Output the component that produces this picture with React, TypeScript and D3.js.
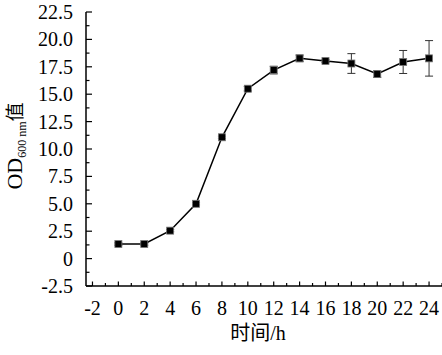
import React from 'react'
import * as d3 from 'd3'

const hours = [0, 2, 4, 6, 8, 10, 12, 14, 16, 18, 20, 22, 24]
const od600 = [1.33, 1.33, 2.55, 5.0, 11.07, 15.5, 17.2, 18.27, 18.03, 17.8, 16.84, 17.94, 18.27]
const errors = [0.1, 0.1, 0.1, 0.1, 0.1, 0.2, 0.35, 0.3, 0.15, 0.9, 0.3, 1.05, 1.62]

const yMajor = [-2.5, 0, 2.5, 5, 7.5, 10, 12.5, 15, 17.5, 20, 22.5]
const xMajor = [-2, 0, 2, 4, 6, 8, 10, 12, 14, 16, 18, 20, 22, 24]

const W = 442
const H = 355
const serif = '"Liberation Serif", "Times New Roman", serif'
const cjk = '"Noto Sans CJK SC", sans-serif'

export default function App() {
  const x = d3.scaleLinear().domain([-2.5, 25]).range([86, 442])
  const y = d3.scaleLinear().domain([-2.5, 22.5]).range([286, 12])

  const yMinor = yMajor.slice(0, -1).map((v) => v + 1.25)
  const xMinor = xMajor.map((v) => v + 1)

  const pts = hours.map((h, i) => ({ h, v: od600[i], e: errors[i] }))
  const line = d3
    .line<{ h: number; v: number }>()
    .x((d) => x(d.h))
    .y((d) => y(d.v))

  const fmt = (v: number) => (v === 0 ? '0' : v.toFixed(1))
  const x0 = x.range()[0]
  const yBottom = y.range()[0]

  return (
    <svg
      width={W}
      height={H}
      style={{ position: 'absolute', left: 0, top: 0, background: '#fff' }}
    >
      {/* y axis */}
      <line x1={x0} x2={x0} y1={y(22.5)} y2={yBottom} stroke="#000" strokeWidth={1.5} />
      {yMajor.map((v) => (
        <g key={'ym' + v}>
          <line x1={x0} x2={x0 + 6} y1={y(v)} y2={y(v)} stroke="#000" strokeWidth={1.2} />
          <text
            x={73}
            y={y(v)}
            dy="0.35em"
            textAnchor="end"
            fontFamily={serif}
            fontSize={20}
            fill="#000"
          >
            {fmt(v)}
          </text>
        </g>
      ))}
      {yMinor.map((v) => (
        <line key={'yn' + v} x1={x0} x2={x0 + 3.5} y1={y(v)} y2={y(v)} stroke="#000" strokeWidth={1.2} />
      ))}

      {/* x axis */}
      <line x1={x0} x2={442} y1={yBottom} y2={yBottom} stroke="#000" strokeWidth={1.5} />
      {xMajor.map((v) => (
        <g key={'xm' + v}>
          <line x1={x(v)} x2={x(v)} y1={yBottom} y2={yBottom - 4.5} stroke="#000" strokeWidth={1.2} />
          <text
            x={x(v)}
            y={315}
            textAnchor="middle"
            fontFamily={serif}
            fontSize={20}
            fill="#000"
          >
            {v}
          </text>
        </g>
      ))}
      {xMinor.map((v) => (
        <line key={'xn' + v} x1={x(v)} x2={x(v)} y1={yBottom} y2={yBottom - 3} stroke="#000" strokeWidth={1.2} />
      ))}

      {/* axis titles */}
      <text x={258} y={340} textAnchor="middle" fontSize={20} fill="#000">
        <tspan fontFamily={cjk}>时间</tspan>
        <tspan fontFamily={serif}>/h</tspan>
      </text>
      <text
        transform="translate(22,146) rotate(-90)"
        textAnchor="middle"
        fill="#000"
        fontFamily={serif}
        fontSize={22}
      >
        <tspan>OD</tspan>
        <tspan fontSize={12} dy={4}>600 nm</tspan>
        <tspan fontFamily={cjk} fontSize={19} dy={-4}>值</tspan>
      </text>

      {/* error bars */}
      {pts.map((d) => (
        <g key={'e' + d.h} stroke="#333" strokeWidth={1}>
          <line x1={x(d.h)} x2={x(d.h)} y1={y(d.v - d.e)} y2={y(d.v + d.e)} />
          <line x1={x(d.h) - 4} x2={x(d.h) + 4} y1={y(d.v - d.e)} y2={y(d.v - d.e)} />
          <line x1={x(d.h) - 4} x2={x(d.h) + 4} y1={y(d.v + d.e)} y2={y(d.v + d.e)} />
        </g>
      ))}

      {/* line */}
      <path d={line(pts) || ''} fill="none" stroke="#000" strokeWidth={1.5} />

      {/* markers */}
      {pts.map((d) => (
        <rect
          key={'m' + d.h}
          x={x(d.h) - 3.5}
          y={y(d.v) - 3.5}
          width={7}
          height={7}
          fill="#000"
          stroke="#777"
          strokeWidth={0.8}
        />
      ))}
    </svg>
  )
}
